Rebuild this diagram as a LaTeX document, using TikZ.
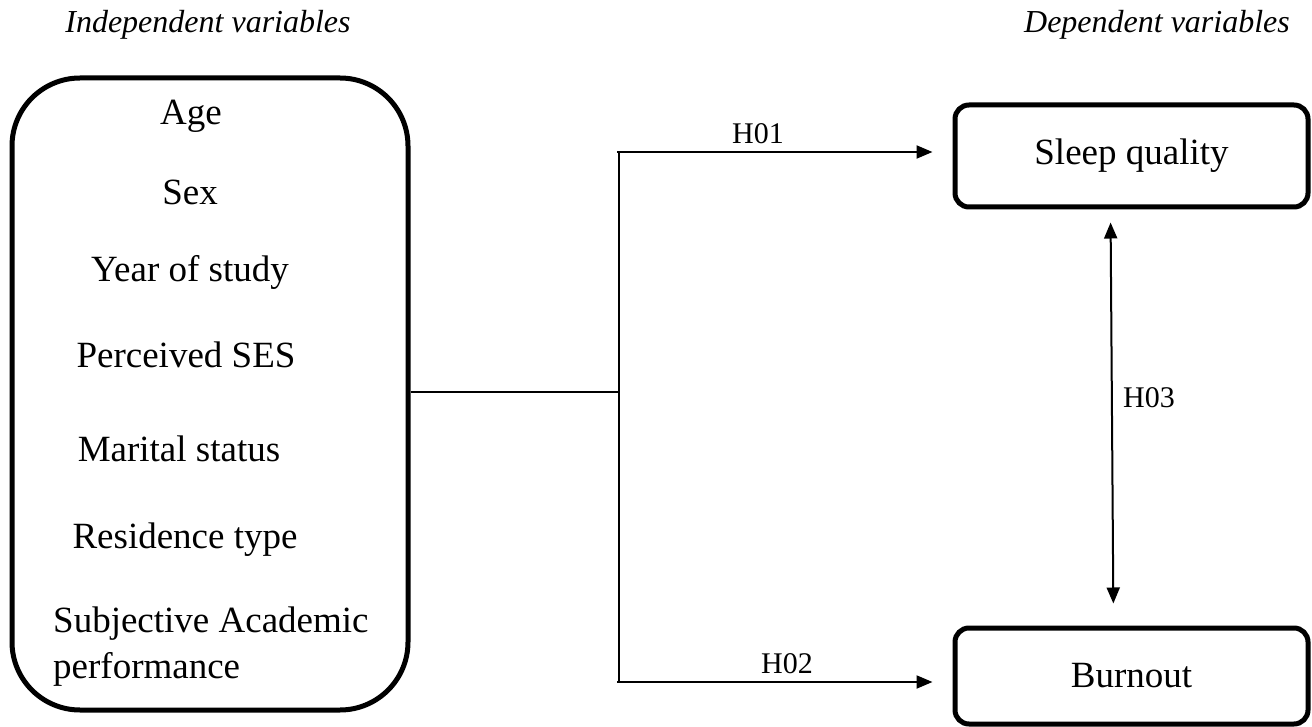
\documentclass[tikz,border=0pt]{standalone}
\usepackage{fontspec}
\setmainfont{Liberation Serif}
\usetikzlibrary{arrows.meta}
\begin{document}
\begin{tikzpicture}[x=1pt,y=-1pt,
  bigbox/.style={draw, line width=5pt, rounded corners=68pt, inner sep=0pt, minimum width=396pt, minimum height=632pt},
  depbox/.style={draw, line width=5pt, rounded corners=14pt, inner sep=0pt, minimum width=353pt, font=\fontsize{37}{40}\selectfont},
  item/.style={anchor=base, inner sep=0pt, font=\fontsize{37}{40}\selectfont},
  head/.style={anchor=base, inner sep=0pt, font=\fontsize{32}{36}\selectfont\itshape},
  hlab/.style={anchor=base, inner sep=0pt, font=\fontsize{30}{32}\selectfont},
  conn/.style={line width=1.6pt},
  arr/.style={line width=2pt, -{Triangle[length=16pt,width=13pt]}},
  darr/.style={line width=2pt, {Triangle[length=16pt,width=13pt]}-{Triangle[length=16pt,width=13pt]}}
]
\useasboundingbox (0,0) rectangle (1312,727);

\node[head] (hi) at (208,33) {Independent variables};
\node[head] (hd) at (1157,33) {Dependent variables};

\node[bigbox] (ind) at (210,394) {};
\node[item] (age) at (191,125) {Age};
\node[item] (sex) at (190,205) {Sex};
\node[item] (yos) at (190,282) {Year of study};
\node[item] (ses) at (186,367) {Perceived SES};
\node[item] (mar) at (179,461) {Marital status};
\node[item] (res) at (185,548) {Residence type};
\node[item, anchor=base west] (sub) at (53,632) {Subjective Academic};
\node[item, anchor=base west] (perf) at (53,678) {performance};

\node[depbox, minimum height=102pt] (sleep) at (1131.5,156) {Sleep quality};
\node[depbox, minimum height=96pt] (burn) at (1131.5,676) {Burnout};

\coordinate (jn) at (619,392);
\coordinate (top) at (619,152);
\coordinate (bot) at (619,682);
\coordinate (topl) at (617,152);
\coordinate (botl) at (617,682);

\draw[conn] (jn -| ind.east) -- (jn);
\draw[conn] (top) -- (bot);
\draw[arr, shorten >=20pt] (topl) -- (topl -| sleep.west);
\draw[arr, shorten >=20pt] (botl) -- (botl -| burn.west);
\draw[darr, shorten <=13pt, shorten >=22pt] ([xshift=-21pt]sleep.south) -- ([xshift=-18pt]burn.north);

\node[hlab] (h1) at (758,144) {H01};
\node[hlab] (h2) at (787,673) {H02};
\node[hlab, anchor=base west] (h3) at (1123,407) {H03};
\end{tikzpicture}
\end{document}
